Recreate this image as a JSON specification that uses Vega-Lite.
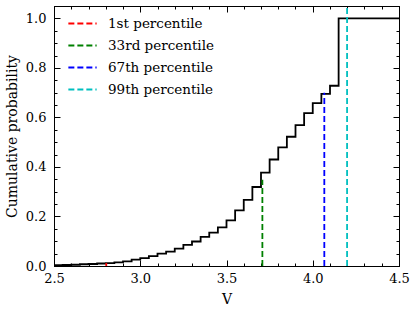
{
  "$schema": "https://vega.github.io/schema/vega-lite/v6.json",
  "width": 345,
  "height": 260,
  "autosize": {"type": "none"},
  "padding": {"left": 54, "top": 6, "right": 17, "bottom": 47},
  "background": "white",
  "config": {
    "font": "DejaVu Serif",
    "view": {"stroke": "black", "strokeWidth": 1},
    "axis": {
      "grid": false,
      "domainColor": "black",
      "domainWidth": 1,
      "tickColor": "black",
      "tickWidth": 1,
      "labelColor": "black",
      "titleColor": "black",
      "labelFontSize": 13,
      "titleFontSize": 14,
      "titleFontWeight": "normal",
      "labelFlush": false,
      "labelOverlap": false
    },
    "legend": {"labelFontSize": 13.5, "labelColor": "black"}
  },
  "layer": [
    {
      "data": {
        "values": [
          {"V": 2.50, "p": 0.003},
          {"V": 2.55, "p": 0.004},
          {"V": 2.60, "p": 0.005},
          {"V": 2.65, "p": 0.007},
          {"V": 2.70, "p": 0.008},
          {"V": 2.75, "p": 0.010},
          {"V": 2.80, "p": 0.012},
          {"V": 2.85, "p": 0.015},
          {"V": 2.90, "p": 0.019},
          {"V": 2.95, "p": 0.026},
          {"V": 3.00, "p": 0.032},
          {"V": 3.05, "p": 0.040},
          {"V": 3.10, "p": 0.050},
          {"V": 3.15, "p": 0.058},
          {"V": 3.20, "p": 0.070},
          {"V": 3.25, "p": 0.085},
          {"V": 3.30, "p": 0.099},
          {"V": 3.35, "p": 0.118},
          {"V": 3.40, "p": 0.135},
          {"V": 3.45, "p": 0.156},
          {"V": 3.50, "p": 0.184},
          {"V": 3.55, "p": 0.225},
          {"V": 3.60, "p": 0.267},
          {"V": 3.65, "p": 0.319},
          {"V": 3.70, "p": 0.377},
          {"V": 3.75, "p": 0.430},
          {"V": 3.80, "p": 0.479},
          {"V": 3.85, "p": 0.522},
          {"V": 3.90, "p": 0.569},
          {"V": 3.95, "p": 0.617},
          {"V": 4.00, "p": 0.658},
          {"V": 4.05, "p": 0.695},
          {"V": 4.10, "p": 0.728},
          {"V": 4.15, "p": 1.0},
          {"V": 4.50, "p": 1.0}
        ]
      },
      "mark": {"type": "line", "interpolate": "step-after", "color": "black", "strokeWidth": 1.8},
      "encoding": {
        "x": {
          "field": "V", "type": "quantitative",
          "scale": {"domain": [2.5, 4.5], "nice": false, "zero": false},
          "axis": {
            "orient": "bottom",
            "title": "V",
            "values": [2.5, 2.6, 2.7, 2.8, 2.9, 3.0, 3.1, 3.2, 3.3, 3.4, 3.5, 3.6, 3.7, 3.8, 3.9, 4.0, 4.1, 4.2, 4.3, 4.4, 4.5],
            "tickSize": {"condition": {"test": "abs(datum.value*2 - round(datum.value*2)) < 1e-6", "value": -6}, "value": -3},
            "labelExpr": "abs(datum.value*2 - round(datum.value*2)) < 1e-6 ? format(datum.value, '.1f') : ''",
            "labelPadding": 12,
            "titlePadding": 4
          }
        },
        "y": {
          "field": "p", "type": "quantitative",
          "scale": {"domain": [0, 1.05], "nice": false},
          "axis": {
            "orient": "left",
            "title": "Cumulative probability",
            "values": [0, 0.05, 0.1, 0.15, 0.2, 0.25, 0.3, 0.35, 0.4, 0.45, 0.5, 0.55, 0.6, 0.65, 0.7, 0.75, 0.8, 0.85, 0.9, 0.95, 1.0, 1.05],
            "tickSize": {"condition": {"test": "abs(datum.value*5 - round(datum.value*5)) < 1e-6", "value": -6}, "value": -3},
            "labelExpr": "abs(datum.value*5 - round(datum.value*5)) < 1e-6 ? format(datum.value, '.1f') : ''",
            "labelPadding": 14,
            "titlePadding": 6
          }
        }
      }
    },
    {
      "data": {
        "values": [
          {"label": "1st percentile", "V": 2.803, "y0": 0, "y1": 0.012},
          {"label": "33rd percentile", "V": 3.708, "y0": 0, "y1": 0.348},
          {"label": "67th percentile", "V": 4.067, "y0": 0, "y1": 0.70},
          {"label": "99th percentile", "V": 4.199, "y0": 0, "y1": 1.05}
        ]
      },
      "mark": {"type": "rule", "strokeWidth": 1.8, "strokeDash": [6, 3]},
      "encoding": {
        "x": {
          "field": "V", "type": "quantitative",
          "axis": {
            "orient": "top", "title": null, "labels": false,
            "values": [2.5, 2.6, 2.7, 2.8, 2.9, 3.0, 3.1, 3.2, 3.3, 3.4, 3.5, 3.6, 3.7, 3.8, 3.9, 4.0, 4.1, 4.2, 4.3, 4.4, 4.5],
            "tickSize": {"condition": {"test": "abs(datum.value*2 - round(datum.value*2)) < 1e-6", "value": -6}, "value": -3}
          }
        },
        "y": {
          "field": "y0", "type": "quantitative",
          "axis": {
            "orient": "right", "title": null, "labels": false,
            "values": [0, 0.05, 0.1, 0.15, 0.2, 0.25, 0.3, 0.35, 0.4, 0.45, 0.5, 0.55, 0.6, 0.65, 0.7, 0.75, 0.8, 0.85, 0.9, 0.95, 1.0, 1.05],
            "tickSize": {"condition": {"test": "abs(datum.value*5 - round(datum.value*5)) < 1e-6", "value": -6}, "value": -3}
          }
        },
        "y2": {"field": "y1"},
        "color": {
          "field": "label", "type": "nominal",
          "scale": {
            "domain": ["1st percentile", "33rd percentile", "67th percentile", "99th percentile"],
            "range": ["#ff0000", "#008000", "#0000ff", "#00bfbf"]
          },
          "legend": {
            "title": null,
            "orient": "none",
            "legendX": 13,
            "legendY": 2,
            "symbolType": "stroke",
            "symbolSize": 800,
            "symbolStrokeWidth": 1.8,
            "symbolDash": [6, 3],
            "labelOffset": 10,
            "rowPadding": -3
          }
        }
      }
    }
  ],
  "resolve": {"axis": {"x": "independent", "y": "independent"}}
}
